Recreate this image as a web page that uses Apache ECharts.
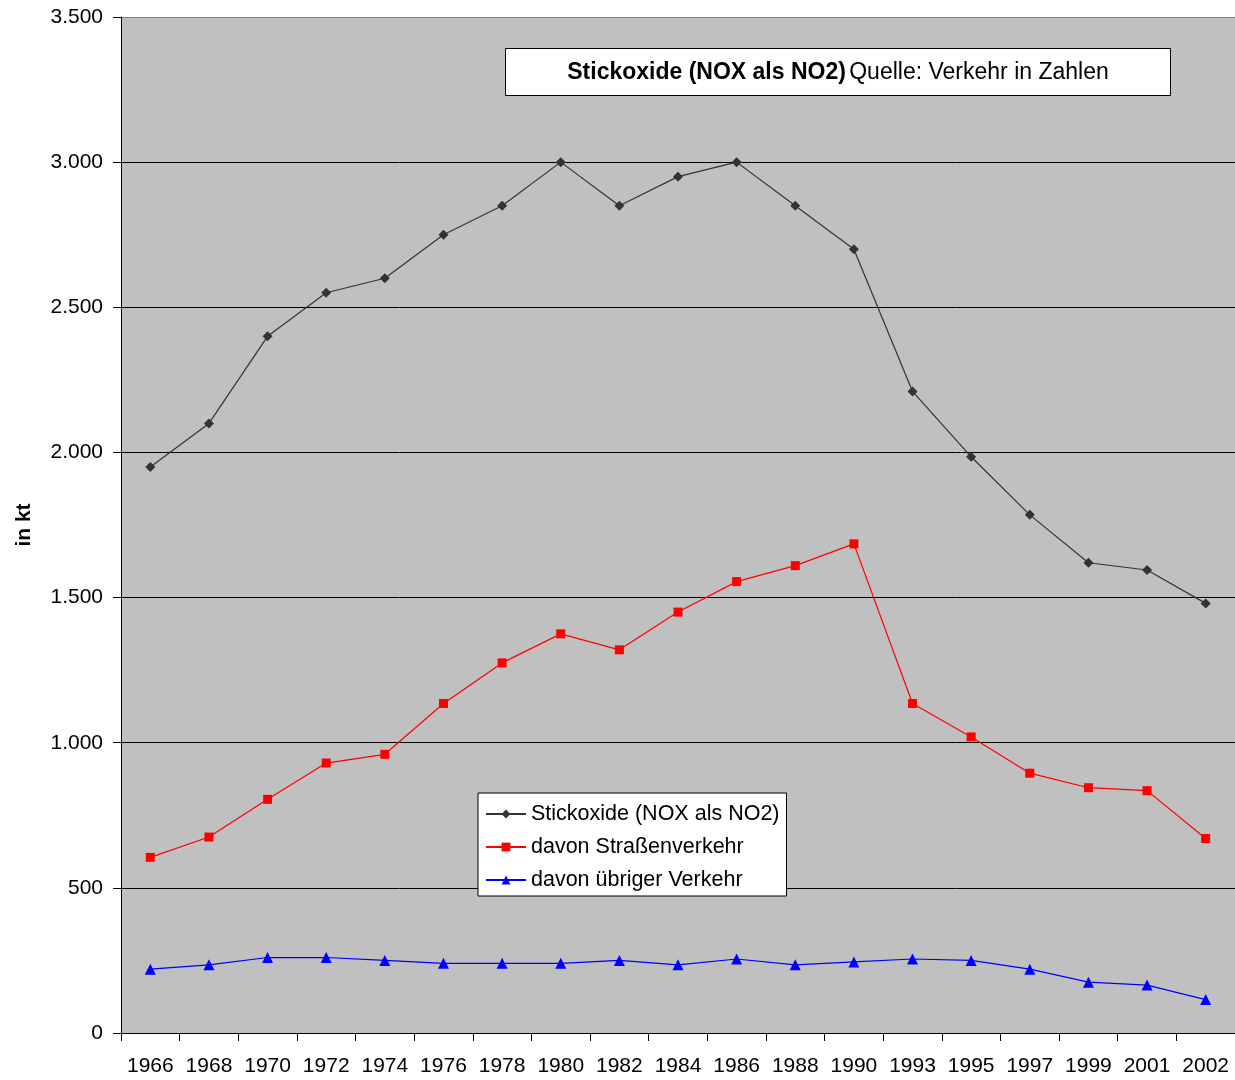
<!DOCTYPE html>
<html>
<head>
<meta charset="utf-8">
<script src="https://cdn.jsdelivr.net/npm/echarts@6/dist/echarts.min.js"></script>
<style>
  html, body { margin: 0; padding: 0; background: #ffffff; }
  #chart { width: 1235px; height: 1080px; }
</style>
</head>
<body>
<div id="chart"></div>
<script>
// Years on the category axis
var years = ['1966', '1968', '1970', '1972', '1974', '1976', '1978', '1980', '1982', '1984',
             '1986', '1988', '1990', '1993', '1995', '1997', '1999', '2001', '2002'];

// NOx emissions in kt
var stickoxide = [1950, 2100, 2400, 2550, 2600, 2750, 2850, 3000, 2850, 2950,
                  3000, 2850, 2700, 2210, 1985, 1785, 1620, 1595, 1480];
var strassenverkehr = [605, 675, 805, 930, 960, 1135, 1275, 1375, 1320, 1450,
                       1555, 1610, 1685, 1135, 1020, 895, 845, 835, 670];
var uebrigerVerkehr = [220, 235, 260, 260, 250, 240, 240, 240, 250, 235,
                       255, 235, 245, 255, 250, 220, 175, 165, 115];

var seriesNames = ['Stickoxide (NOX als NO2)', 'davon Straßenverkehr', 'davon übriger Verkehr'];

var FONT = '"Liberation Sans", Arial, sans-serif';

function fmtThousands(v) {
  return String(v).replace(/\B(?=(\d{3})+(?!\d))/g, '.');
}

var chart = echarts.init(document.getElementById('chart'), null, { renderer: 'canvas' });

chart.setOption({
  animation: false,
  backgroundColor: '#ffffff',
  textStyle: { fontFamily: FONT },
  grid: {
    left: 121, right: 0, top: 17, bottom: 47,
    show: true,
    backgroundColor: '#c0c0c0',
    borderWidth: 0
  },
  legend: {
    orient: 'vertical',
    left: 478,
    top: 793,
    backgroundColor: '#ffffff',
    borderColor: '#000000',
    borderWidth: 1,
    padding: [10, 7, 5, 7],
    itemGap: 11,
    itemWidth: 40,
    itemHeight: 11,
    textStyle: { fontSize: 21.5, color: '#000000', fontFamily: FONT, padding: [0, 0, 0, 0] },
    data: seriesNames
  },
  xAxis: {
    type: 'category',
    data: years,
    boundaryGap: true,
    axisLine: { lineStyle: { color: '#000000', width: 1 } },
    axisTick: { show: true, length: 8, lineStyle: { color: '#000000' } },
    axisLabel: { fontSize: 21, color: '#000000', margin: 23, fontFamily: FONT, interval: 0 },
    splitLine: { show: false }
  },
  yAxis: {
    type: 'value',
    min: 0,
    max: 3500,
    interval: 500,
    name: 'in kt',
    nameLocation: 'middle',
    nameGap: 86,
    nameTextStyle: { fontSize: 21, fontWeight: 'bold', color: '#000000', fontFamily: FONT },
    axisLine: { show: true, lineStyle: { color: '#000000', width: 1 } },
    axisTick: { show: true, length: 8, lineStyle: { color: '#000000' } },
    axisLabel: {
      fontSize: 21, color: '#000000', margin: 18, fontFamily: FONT,
      formatter: function (v) { return fmtThousands(v); }
    },
    splitLine: {
      show: true,
      lineStyle: {
        color: ['#000000', '#000000', '#000000', '#000000', '#000000', '#000000', '#000000', '#808080'],
        width: 1
      }
    }
  },
  graphic: [
    {
      type: 'rect',
      shape: { x: 505.5, y: 48.5, width: 665, height: 47 },
      style: { fill: '#ffffff', stroke: '#000000', lineWidth: 1 },
      z: 100
    },
    {
      type: 'text',
      style: {
        x: 838,
        y: 73,
        align: 'center',
        verticalAlign: 'middle',
        text: '{b|Stickoxide (NOX als NO2)} {n|Quelle: Verkehr in Zahlen}',
        rich: {
          b: { fontSize: 23, fontWeight: 'bold', fill: '#000000', fontFamily: FONT },
          n: { fontSize: 23, fill: '#000000', fontFamily: FONT }
        }
      },
      z: 101
    }
  ],
  series: [
    {
      name: seriesNames[0],
      type: 'line',
      data: stickoxide,
      symbol: 'diamond',
      symbolSize: 10,
      color: '#333333',
      lineStyle: { color: '#333333', width: 1.2 },
      itemStyle: { color: '#333333' }
    },
    {
      name: seriesNames[1],
      type: 'line',
      data: strassenverkehr,
      symbol: 'rect',
      symbolSize: 9,
      color: '#ff0000',
      lineStyle: { color: '#ff0000', width: 1.2 },
      itemStyle: { color: '#ff0000' }
    },
    {
      name: seriesNames[2],
      type: 'line',
      data: uebrigerVerkehr,
      symbol: 'triangle',
      symbolSize: 11,
      color: '#0000ff',
      lineStyle: { color: '#0000ff', width: 1.2 },
      itemStyle: { color: '#0000ff' }
    }
  ]
});
</script>
</body>
</html>
